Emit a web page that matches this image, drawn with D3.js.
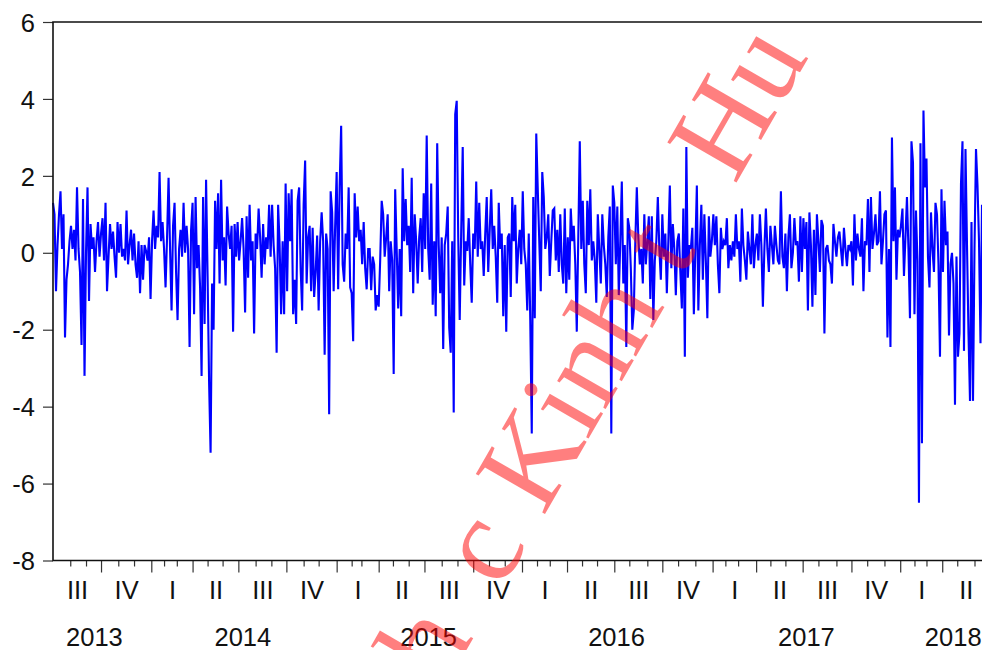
<!DOCTYPE html>
<html lang="en">
<head>
<meta charset="UTF-8">
<script src="https://d3js.org/d3.v7.min.js"></script>
<title>Daily series 2013-2018</title>
<style>
body { margin: 0; background: #fff; }
text { font-family: "Liberation Sans", Arial, sans-serif; fill: #111; }
</style>
</head>
<body>
<div id="chart"></div>
<script>
// one reading every 2 trading days
const series = [
  1.3,1.0,-1.0,.2,1.0,1.6,.1,1.0,-2.2,-.7,-.3,.3,.7,.1,.6,-.2,1.7,.1,-.5,-2.4,
  1.4,-3.2,0,1.7,-1.25,.75,.1,.4,-.5,.3,.8,-.1,.5,.9,-.2,1.3,-1.0,-.1,.75,.1,
  .55,-.1,-.65,.8,0,.75,-.1,.1,-.2,1.1,-.3,.2,.6,-.2,.5,-.3,-.65,.3,-1.05,.2,
  -.7,.2,.05,-.2,.4,-1.2,.3,1.1,.1,.7,.4,2.1,.3,.8,.1,-.9,.4,1.95,.1,-1.5,
  .7,1.3,-.5,-1.75,.1,.6,-.1,1.3,0,.7,.1,-2.45,.6,1.3,-1.6,1.45,-.4,.2,-.9,-3.2,
  1.45,-1.85,1.9,-.6,-3.35,-5.2,-.8,-2.0,1.35,.1,1.55,-.8,1.9,-.2,.4,-.85,1.2,.5,.1,.7,
  -2.05,.75,-.1,.8,-.2,.3,.9,.1,-1.55,.95,-.65,1.25,-.2,.3,-2.1,.5,.1,1.15,.4,-.65,
  .75,-.3,.4,.1,1.25,-.1,1.25,.2,-.4,-2.6,1.25,.2,-1.6,.3,-1.6,1.8,-1.0,1.55,.3,1.65,
  -1.6,-.7,-1.85,1.35,1.7,-.4,-1.5,1.25,2.4,-.8,.4,.7,-1.0,.65,-1.15,-.5,.45,-1.5,.3,1.05,
  .3,-2.65,.5,.1,-4.2,1.6,1.05,-1.0,.7,2.1,-.95,1.75,3.3,-.3,-.75,.5,.1,1.7,-.9,-1.05,
  -2.3,1.55,.4,1.2,.3,.6,-.3,.8,-.4,-.95,.1,.1,-.97,-.1,-.3,-1.5,-1.1,-1.4,-.2,1.35,
  1.0,-.1,.4,1.0,-1.0,.3,-.2,-3.15,1.65,.1,-1.45,.1,-1.65,2.2,.3,1.4,.2,.7,-.5,1.95,
  -1.05,1.0,.3,-.8,.4,.9,-.5,1.55,.1,3.05,.1,-.7,1.8,-1.35,.3,-1.65,2.85,.2,-1.05,.4,
  -2.5,.2,.5,1.2,-1.95,-2.6,.3,-4.15,3.6,3.95,.4,-1.75,.6,2.75,-.85,.3,.05,.9,-.3,-1.3,
  .5,.1,1.85,-.1,1.3,.1,.3,-.6,.5,1.45,-.5,.6,1.65,.1,.7,-.1,-1.3,1.3,.1,.5,
  -1.65,.2,-2.05,.4,.5,-1.15,1.45,.3,1.25,-.8,.1,.6,-.3,1.6,.1,-.3,-1.5,.5,-1.75,-4.7,
  1.45,-1.7,3.1,1.65,.3,-1.0,2.1,1.45,.1,.4,1.0,-.6,.3,1.1,1.15,-.2,.6,-.5,1.0,-.3,
  -.8,1.15,-1.05,.4,-.7,1.15,.3,.7,-.3,-2.05,.4,2.9,.1,1.35,-.3,-1.05,1.35,.2,1.65,-.2,
  .3,-.2,-1.3,1.0,.1,-.8,1.0,.2,-.3,-1.15,.4,1.2,-4.7,1.75,1.3,-.3,1.2,-1.1,.3,1.85,
  -.8,.2,-2.45,.9,.65,-.4,-2.0,-1.5,.3,1.7,.4,-.3,.1,-.8,1.0,-.3,.3,.95,-1.2,.95,
  -1.75,-.2,.3,1.45,.1,-.7,1.0,-.1,.5,-1.05,.3,1.75,-.4,.75,.1,-1.1,.3,.5,-.5,-1.45,
  1.15,-2.7,2.75,-.65,.2,.1,.65,-1.6,.1,1.75,-1.5,.2,1.25,-.7,1.0,-.2,-1.7,.95,-.1,.3,
  1.0,.2,.95,-.3,-1.05,.65,.1,.3,.2,.9,-.4,.2,-.2,.3,-.1,1.0,.1,.3,-.75,1.15,
  .2,-.2,-.7,.55,.1,-.3,1.0,-.4,.2,.5,-.2,1.0,.2,-1.4,.1,1.15,.1,-.5,.7,.2,
  -.3,.7,.2,-.2,-.3,1.6,-.1,-.4,.5,-1.0,.4,1.0,-.4,0,.9,.2,.3,-.75,.95,-.5,
  .9,.1,.8,-1.5,1.05,.2,-1.4,.6,-1.1,1.0,.3,-.5,.85,.7,-2.1,.1,.2,-.2,-.3,-.8,
  .75,.3,-.1,.4,.55,.1,-.35,.65,.1,-.35,.2,.1,.3,-.85,1.0,-.2,.5,.1,-.1,.9,
  -1.0,.3,.2,1.4,-.5,1.45,.1,.5,1.0,.2,.3,1.6,-.3,.3,1.0,1.1,-2.2,.1,-2.45,3.0,
  .3,1.7,-.7,.6,.4,.7,1.15,-.6,.4,1.45,.1,-1.7,2.9,2.35,-1.6,1.1,-.2,-6.5,2.85,-4.95,
  3.7,1.7,2.45,-.1,-.9,1.05,.1,-.5,1.3,1.0,-.3,-2.7,1.65,-.5,1.35,.2,.55,-2.15,-.3,0,
  -.8,-3.95,-.1,-2.7,-2.1,1.8,2.9,-2.55,2.7,.2,-2.1,-3.85,.8,-3.85,.1,2.7,1.75,.3,-2.35,1.25
];
const daysPerReading = 2;

// trading days in each month, Jul 2013 to part of Jun 2018
const monthDays = [
  23,21,20,23,21,23, 17,17,21,20,20,21,23,21,20,23,20,24,
  20,13,23,19,21,21,23,21,21,21,21,23, 20,17,23,20,20,23,20,24,20,21,23,23,
  17,17,24,19,20,23,21,24,20,21,23,21, 19,16,21,20,23,10
];
const firstYear = 2013, firstMonth = 6; // July, zero based
const quarterNames = ["I", "II", "III", "IV"];
const yTicks = [6, 4, 2, 0, -2, -4, -6, -8];
const daysInQuarter = 63;

const width = 982, height = 650;
const margin = { top: 22, right: 0, bottom: 89.5, left: 53 };
const labelSize = 25.5;

// month start positions in trading days
const months = [];
let total = 0;
monthDays.forEach((n, i) => {
  const m = firstMonth + i;
  months.push({ day: total, month: m % 12, year: firstYear + Math.floor(m / 12) });
  total += n;
});

const svg = d3.select("#chart").append("svg")
  .attr("width", width).attr("height", height)
  .style("display", "block");

const x = d3.scaleLinear().domain([0, total]).range([margin.left, width - margin.right]);
const y = d3.scaleLinear().domain([-8, 6]).range([height - margin.bottom, margin.top]);

const isQuarter = m => m.month % 3 === 0;
const axisY = height - margin.bottom;

// minor ticks, then quarter ticks
svg.append("g").attr("transform", `translate(0,${axisY})`)
  .call(d3.axisBottom(x).tickValues(months.filter(m => !isQuarter(m) && m.day > 0).map(m => m.day))
    .tickSize(6).tickFormat("").tickSizeOuter(0))
  .call(g => g.select(".domain").remove())
  .call(g => g.selectAll("line").attr("stroke", "#333").attr("stroke-width", 1.2));
svg.append("g").attr("transform", `translate(0,${axisY})`)
  .call(d3.axisBottom(x).tickValues(months.filter(m => isQuarter(m) && m.day > 0).map(m => m.day))
    .tickSize(12).tickFormat("").tickSizeOuter(0))
  .call(g => g.select(".domain").remove())
  .call(g => g.selectAll("line").attr("stroke", "#333").attr("stroke-width", 1.2));

// y axis
svg.append("g").attr("transform", `translate(${margin.left},0)`)
  .call(d3.axisLeft(y).tickValues(yTicks).tickSize(10).tickPadding(8).tickSizeOuter(0)
    .tickFormat(d => String(d)))
  .call(g => g.select(".domain").remove())
  .call(g => g.selectAll("line").attr("stroke", "#333").attr("stroke-width", 1.2))
  .call(g => g.selectAll("text").attr("font-size", labelSize).attr("dy", "0.36em")
    .style("font-family", '"Liberation Sans", Arial, sans-serif'));

// the data line
const line = d3.line()
  .x((d, i) => x(i * daysPerReading))
  .y(d => y(d));
svg.append("path")
  .datum(series)
  .attr("fill", "none")
  .attr("stroke", "#0000ff")
  .attr("stroke-width", 2.1)
  .attr("d", line);

// frame
svg.append("path")
  .attr("fill", "none")
  .attr("stroke", "#111")
  .attr("stroke-width", 1.6)
  .attr("d", d3.line()([[width, y(6)], [x(0), y(6)], [x(0), y(-8)], [width, y(-8)]]));

// quarter labels
const quarters = months.filter(isQuarter).map((m, i, all) => ({
  name: quarterNames[m.month / 3],
  start: m.day,
  end: all[i + 1] ? all[i + 1].day : m.day + daysInQuarter
}));
svg.selectAll(".quarter").data(quarters).enter().append("text")
  .attr("class", "quarter")
  .attr("x", d => x((d.start + d.end) / 2) + 0.5)
  .attr("y", 599)
  .attr("text-anchor", "middle")
  .attr("font-size", labelSize)
  .text(d => d.name);

// year labels
const years = d3.rollups(months, v => [d3.min(v, m => m.day), d3.max(v, m => m.day) + 21], m => m.year);
const yearShift = { 2013: -7, 2018: 8 };
svg.selectAll(".year").data(years).enter().append("text")
  .attr("class", "year")
  .attr("x", d => x((d[1][0] + d[1][1]) / 2) + (yearShift[d[0]] || 0))
  .attr("y", 646)
  .attr("text-anchor", "middle")
  .attr("font-size", labelSize)
  .text(d => d[0]);

// watermark, with the letters that did not render left as gaps
const mark = svg.append("text")
  .attr("transform", "translate(443.6,689.7) rotate(-60)")
  .attr("font-size", 122)
  .style("font-family", '"Liberation Serif", "Times New Roman", serif')
  .style("fill", "#ff0000")
  .style("fill-opacity", 0.5);
mark.append("tspan").text("h");
mark.append("tspan").attr("dx", "0.44em").text("c Kinh t");
mark.append("tspan").attr("dx", "0.61em").text("Hu");
</script>
</body>
</html>
